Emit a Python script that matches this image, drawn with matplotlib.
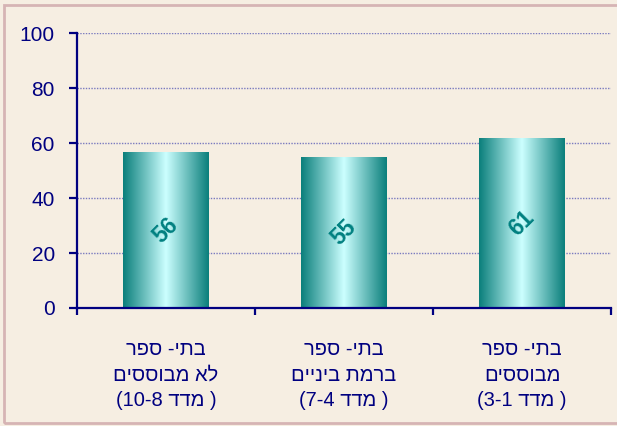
import numpy as np
import matplotlib
matplotlib.use('Agg')
import matplotlib.pyplot as plt
from matplotlib.colors import LinearSegmentedColormap
from matplotlib.patches import Rectangle

plt.rcParams['font.family'] = ['Liberation Sans', 'DejaVu Sans']

# data (Hebrew in logical order)
line1 = ['בתי- ספר', 'בתי- ספר', 'בתי- ספר']
line2 = ['לא מבוססים', 'ברמת ביניים', 'מבוססים']
ranges = ['10-8', '7-4', '3-1']
values = [56.4, 54.9, 61.8]
value_labels = ['56', '55', '61']

navy = '#000080'
teal = '#0A7F7B'
bg = '#F6EEE2'


def vis(s):
    # matplotlib has no bidi, so give it the visual order
    return s[::-1]


fig = plt.figure(figsize=(6.17, 4.26), dpi=100, facecolor=bg)
ax = fig.add_axes([0.1248, 0.277, 0.8655, 0.6455])
ax.set_facecolor(bg)

# outer frame
fig.patches.append(Rectangle((0.006, 0.007), 1.1, 0.981, transform=fig.transFigure,
                             fill=False, edgecolor='#D6B4B4', linewidth=2))

cmap = LinearSegmentedColormap.from_list('cyl', [teal, '#CCFFFF', teal])
grad = np.linspace(0, 1, 256).reshape(1, -1)
w = 0.48
for i, v in enumerate(values):
    ax.imshow(grad, cmap=cmap, extent=[i - w / 2, i + w / 2, 0, v],
              aspect='auto', zorder=2, interpolation='bicubic')
    ax.text(i, v / 2, value_labels[i], rotation=45, ha='center', va='center',
            color='#008080', fontsize=16.5, fontweight='bold', zorder=3)

ax.set_xlim(-0.5, 2.5)
ax.set_ylim(0, 100)
ax.set_yticks(range(0, 101, 20))
ax.set_xticks([-0.5, 0.5, 1.5, 2.5])
ax.set_xticklabels([])
ax.grid(axis='y', color='#7A7ABF', linestyle=(0, (1, 1)), linewidth=1, zorder=0)
ax.set_axisbelow(True)

for s in ['top', 'right']:
    ax.spines[s].set_visible(False)
for s in ['left', 'bottom']:
    ax.spines[s].set_color(navy)
    ax.spines[s].set_linewidth(1.6)

ax.tick_params(axis='y', colors=navy, labelsize=15, length=6, width=1.6,
               direction='out', pad=10)
ax.tick_params(axis='x', colors=navy, length=5, width=1.6, direction='out')

for i in range(3):
    txt = vis(line1[i]) + '\n' + vis(line2[i]) + '\n' + '(' + ranges[i] + ' ' + vis('מדד') + ' )'
    ax.text(i, -0.244, txt, transform=ax.get_xaxis_transform(), ha='center', va='center',
            color=navy, fontsize=14.5, linespacing=1.45)

fig.savefig('out.png', dpi=100, facecolor=bg)
